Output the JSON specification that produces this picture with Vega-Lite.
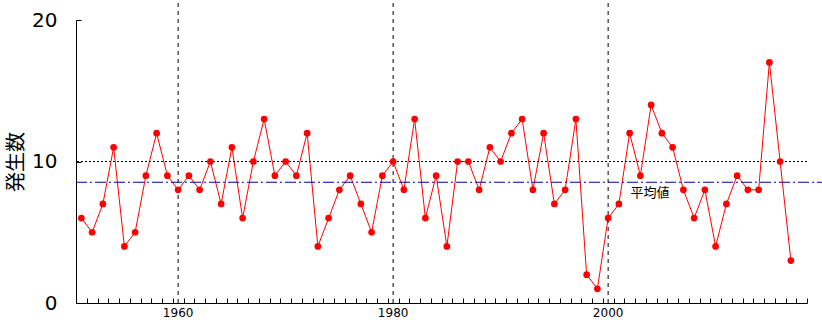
{
  "$schema": "https://vega.github.io/schema/vega-lite/v6.json",
  "width": 731,
  "height": 283,
  "autosize": "none",
  "padding": {"left": 76, "top": 20, "right": 15, "bottom": 21},
  "background": "white",
  "config": {
    "view": {"stroke": null},
    "axis": {"grid": false, "domainColor": "black", "tickColor": "black", "labelColor": "black", "titleColor": "black", "domainWidth": 1, "tickWidth": 1}
  },
  "datasets": {
    "counts": [
      {"year": 1951, "n": 6}, {"year": 1952, "n": 5}, {"year": 1953, "n": 7}, {"year": 1954, "n": 11}, {"year": 1955, "n": 4},
      {"year": 1956, "n": 5}, {"year": 1957, "n": 9}, {"year": 1958, "n": 12}, {"year": 1959, "n": 9}, {"year": 1960, "n": 8},
      {"year": 1961, "n": 9}, {"year": 1962, "n": 8}, {"year": 1963, "n": 10}, {"year": 1964, "n": 7}, {"year": 1965, "n": 11},
      {"year": 1966, "n": 6}, {"year": 1967, "n": 10}, {"year": 1968, "n": 13}, {"year": 1969, "n": 9}, {"year": 1970, "n": 10},
      {"year": 1971, "n": 9}, {"year": 1972, "n": 12}, {"year": 1973, "n": 4}, {"year": 1974, "n": 6}, {"year": 1975, "n": 8},
      {"year": 1976, "n": 9}, {"year": 1977, "n": 7}, {"year": 1978, "n": 5}, {"year": 1979, "n": 9}, {"year": 1980, "n": 10},
      {"year": 1981, "n": 8}, {"year": 1982, "n": 13}, {"year": 1983, "n": 6}, {"year": 1984, "n": 9}, {"year": 1985, "n": 4},
      {"year": 1986, "n": 10}, {"year": 1987, "n": 10}, {"year": 1988, "n": 8}, {"year": 1989, "n": 11}, {"year": 1990, "n": 10},
      {"year": 1991, "n": 12}, {"year": 1992, "n": 13}, {"year": 1993, "n": 8}, {"year": 1994, "n": 12}, {"year": 1995, "n": 7},
      {"year": 1996, "n": 8}, {"year": 1997, "n": 13}, {"year": 1998, "n": 2}, {"year": 1999, "n": 1}, {"year": 2000, "n": 6},
      {"year": 2001, "n": 7}, {"year": 2002, "n": 12}, {"year": 2003, "n": 9}, {"year": 2004, "n": 14}, {"year": 2005, "n": 12},
      {"year": 2006, "n": 11}, {"year": 2007, "n": 8}, {"year": 2008, "n": 6}, {"year": 2009, "n": 8}, {"year": 2010, "n": 4},
      {"year": 2011, "n": 7}, {"year": 2012, "n": 9}, {"year": 2013, "n": 8}, {"year": 2014, "n": 8}, {"year": 2015, "n": 17},
      {"year": 2016, "n": 10}, {"year": 2017, "n": 3}
    ],
    "decades": [{"year": 1960, "label": "1960"}, {"year": 1980, "label": "1980"}, {"year": 2000, "label": "2000"}]
  },
  "layer": [
    {
      "data": {"name": "counts"},
      "mark": {"type": "line", "color": "#ff0000", "strokeWidth": 1},
      "encoding": {
        "x": {
          "field": "year", "type": "quantitative", "title": null,
          "scale": {"domain": [1950.5, 2018.5], "nice": false, "zero": false},
          "axis": {
            "values": [1950.5, 1951.5, 1952.5, 1953.5, 1954.5, 1955.5, 1956.5, 1957.5, 1958.5, 1959.5,
              1960.5, 1961.5, 1962.5, 1963.5, 1964.5, 1965.5, 1966.5, 1967.5, 1968.5, 1969.5,
              1970.5, 1971.5, 1972.5, 1973.5, 1974.5, 1975.5, 1976.5, 1977.5, 1978.5, 1979.5,
              1980.5, 1981.5, 1982.5, 1983.5, 1984.5, 1985.5, 1986.5, 1987.5, 1988.5, 1989.5,
              1990.5, 1991.5, 1992.5, 1993.5, 1994.5, 1995.5, 1996.5, 1997.5, 1998.5, 1999.5,
              2000.5, 2001.5, 2002.5, 2003.5, 2004.5, 2005.5, 2006.5, 2007.5, 2008.5, 2009.5,
              2010.5, 2011.5, 2012.5, 2013.5, 2014.5, 2015.5, 2016.5, 2017.5, 2018.5],
            "tickCount": 500,
            "labels": false,
            "tickSize": -5
          }
        },
        "y": {
          "field": "n", "type": "quantitative", "title": "発生数",
          "scale": {"domain": [0, 20], "nice": false},
          "axis": {
            "values": [0, 10, 20],
            "tickSize": -5,
            "labelPadding": 24,
            "labelFont": "DejaVu Sans",
            "labelFontSize": 20,
            "titleFont": "Noto Sans CJK JP",
            "titleFontSize": 20,
            "titleFontWeight": "normal",
            "titleAngle": -90,
            "titleX": -60,
            "titleY": 141.5,
            "titleAlign": "center",
            "titleBaseline": "middle"
          }
        }
      }
    },
    {
      "data": {"name": "decades"},
      "mark": {"type": "rule", "color": "black", "strokeWidth": 1, "strokeDash": [4, 4], "clip": false},
      "encoding": {
        "x": {"field": "year", "type": "quantitative", "title": null},
        "y": {"datum": 0, "type": "quantitative"},
        "y2": {"datum": 21.45}
      }
    },
    {
      "data": {"name": "decades"},
      "mark": {"type": "text", "font": "DejaVu Sans", "fontSize": 12, "color": "black", "align": "center", "baseline": "top", "dy": 5},
      "encoding": {
        "x": {"field": "year", "type": "quantitative", "title": null},
        "y": {"datum": 0, "type": "quantitative"},
        "text": {"field": "label"}
      }
    },
    {
      "data": {"name": "counts"},
      "mark": {"type": "rule", "color": "black", "strokeWidth": 1.2, "strokeDash": [1.2, 2.8]},
      "encoding": {
        "y": {"datum": 10, "type": "quantitative"}
      }
    },
    {
      "data": {"name": "counts"},
      "mark": {"type": "rule", "color": "#0000a8", "strokeWidth": 1.1, "strokeDash": [11, 3, 2, 3], "clip": false},
      "encoding": {
        "y": {"aggregate": "mean", "field": "n", "type": "quantitative", "title": "発生数"},
        "x": {"datum": 1950.5, "type": "quantitative"},
        "x2": {"datum": 2019.9}
      }
    },
    {
      "data": {"name": "counts"},
      "mark": {"type": "text", "text": "平均値", "font": "Noto Sans CJK JP", "fontSize": 13, "color": "black", "align": "center", "baseline": "middle", "dy": 11},
      "encoding": {
        "y": {"aggregate": "mean", "field": "n", "type": "quantitative", "title": "発生数"},
        "x": {"datum": 2003.9, "type": "quantitative"}
      }
    },
    {
      "data": {"name": "counts"},
      "mark": {"type": "point", "shape": "circle", "filled": true, "size": 45, "color": "#ff0000", "opacity": 1},
      "encoding": {
        "x": {"field": "year", "type": "quantitative", "title": null},
        "y": {"field": "n", "type": "quantitative", "title": "発生数"}
      }
    }
  ]
}
